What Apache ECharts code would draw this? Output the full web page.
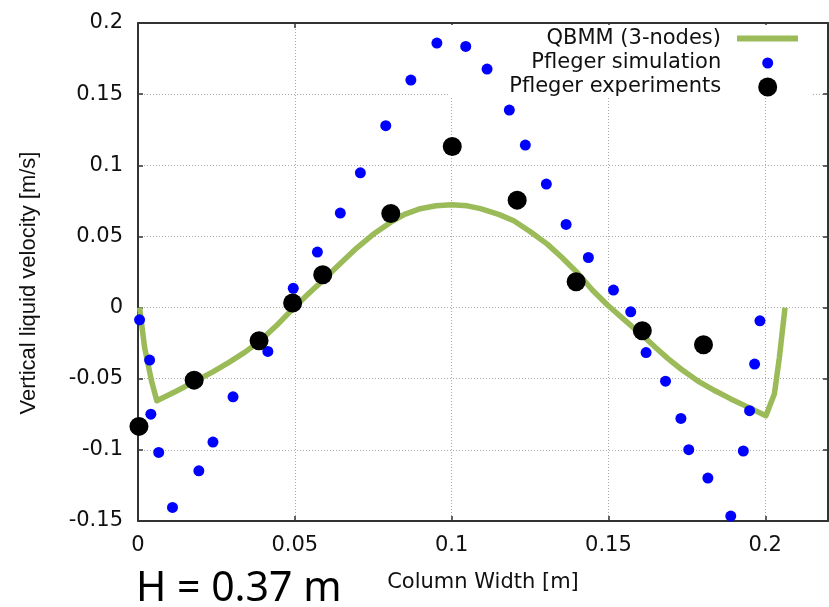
<!DOCTYPE html>
<html><head><meta charset="utf-8">
<script src="https://cdn.jsdelivr.net/npm/echarts@6/dist/echarts.min.js"></script>
<style>html,body{margin:0;padding:0;background:#fff}#c{width:829px;height:607px}</style>
</head><body><div id="c"></div>
<script>
// QBMM (3-nodes) curve
const qbmmX = [0.0005, 0.0021, 0.0043, 0.0060, 0.0120, 0.0180, 0.0240, 0.0290, 0.0340, 0.0386, 0.0440, 0.0493, 0.0540, 0.0589, 0.0645, 0.0698, 0.0750, 0.0806, 0.0850, 0.0900, 0.0950, 0.1000, 0.1050, 0.1092, 0.1150, 0.1198, 0.1250, 0.1305, 0.1350, 0.1401, 0.1450, 0.1496, 0.1550, 0.1608, 0.1650, 0.1688, 0.1730, 0.1784, 0.1840, 0.1890, 0.1950, 0.2002, 0.2029, 0.2045, 0.2063];
const qbmmY = [0.0000, -0.0280, -0.0514, -0.0655, -0.0590, -0.0520, -0.0450, -0.0385, -0.0315, -0.0240, -0.0130, -0.0010, 0.0090, 0.0190, 0.0310, 0.0420, 0.0515, 0.0600, 0.0655, 0.0695, 0.0716, 0.0722, 0.0715, 0.0695, 0.0655, 0.0610, 0.0535, 0.0446, 0.0355, 0.0245, 0.0120, 0.0020, -0.0085, -0.0195, -0.0280, -0.0355, -0.0430, -0.0515, -0.0585, -0.0642, -0.0705, -0.0760, -0.0608, -0.0350, 0.0000];
// Pfleger simulation
const simX = [0.0005, 0.0037, 0.0041, 0.0066, 0.0110, 0.0194, 0.0239, 0.0303, 0.0414, 0.0495, 0.0572, 0.0645, 0.0709, 0.0790, 0.0870, 0.0953, 0.1045, 0.1113, 0.1184, 0.1235, 0.1302, 0.1365, 0.1436, 0.1516, 0.1571, 0.1620, 0.1682, 0.1731, 0.1756, 0.1817, 0.1890, 0.1930, 0.1950, 0.1966, 0.1983];
const simY = [-0.0086, -0.0369, -0.0749, -0.1018, -0.1405, -0.1147, -0.0945, -0.0627, -0.0308, 0.0135, 0.0390, 0.0664, 0.0947, 0.1278, 0.1599, 0.1859, 0.1835, 0.1676, 0.1388, 0.1142, 0.0868, 0.0584, 0.0352, 0.0123, -0.0030, -0.0316, -0.0517, -0.0779, -0.0999, -0.1198, -0.1465, -0.1008, -0.0725, -0.0397, -0.0093];
// Pfleger experiments
const expX = [0.0003, 0.0179, 0.0386, 0.0493, 0.0589, 0.0806, 0.1002, 0.1209, 0.1397, 0.1608, 0.1803];
const expY = [-0.0835, -0.0510, -0.0233, 0.0032, 0.0231, 0.0661, 0.1132, 0.0755, 0.0181, -0.0163, -0.0261];

const seriesNames = ['QBMM (3-nodes)', 'Pfleger simulation', 'Pfleger experiments'];
const xRange = [0, 0.22], xStep = 0.05;
const yRange = [-0.15, 0.2], yStep = 0.05;
const xName = 'Column Width [m]';
const yName = 'Vertical liquid velocity [m/s]';
const noteText = 'H = 0.37 m';

const zip = (a, b) => a.map((v, i) => [v, b[i]]);
const tickFont = 'DejaVu Sans';
const border = {show: true, onZero: false, lineStyle: {color: '#333', width: 2}};
const innerTick = {show: true, inside: true, length: 5, lineStyle: {color: '#333', width: 1.5}};

const chart = echarts.init(document.getElementById('c'), null, {renderer: 'canvas'});
const legendBase = {
  orient: 'vertical', align: 'right', padding: 0, selectedMode: false
};
const legendText = (padRight) => ({fontFamily: tickFont, fontSize: 21, color: '#111', lineHeight: 22, padding: [0, padRight, 0, 0]});
chart.setOption({
  animation: false,
  backgroundColor: '#fff',
  title: {text: noteText, left: 136, top: 569, padding: 0,
    textStyle: {fontFamily: 'Noto Sans', fontSize: 41, fontWeight: 'normal', color: '#000'}},
  grid: {left: 138, top: 23, width: 690, height: 498, containLabel: false},
  legend: [
    Object.assign({}, legendBase, {data: [{name: seriesNames[0], icon: 'rect'}], top: 27.5, right: 31,
      itemWidth: 61, itemHeight: 6, itemStyle: {color: '#9bbb59'}, textStyle: legendText(11)}),
    Object.assign({}, legendBase, {data: [seriesNames[1]], top: 52, right: 55.8,
      itemWidth: 11, itemHeight: 11, textStyle: legendText(36)}),
    Object.assign({}, legendBase, {data: [seriesNames[2]], top: 76, right: 51.8,
      itemWidth: 19, itemHeight: 19, textStyle: legendText(32)})
  ],
  graphic: {elements: [{type: 'rect', left: 448, top: 25, z: 1, silent: true,
    shape: {width: 365, height: 71}, style: {fill: '#fff'}}]},
  xAxis: [{
    type: 'value', min: xRange[0], max: xRange[1], interval: xStep,
    name: xName, nameLocation: 'middle', nameGap: 51,
    nameTextStyle: {fontFamily: tickFont, fontSize: 21, color: '#111'},
    axisLine: border, axisTick: innerTick,
    axisLabel: {fontFamily: tickFont, fontSize: 21, color: '#111', margin: 14, showMaxLabel: false},
    splitLine: {show: true, lineStyle: {color: '#a8a8a8', width: 1, type: [1, 2]}}
  }, {
    type: 'value', position: 'top', min: xRange[0], max: xRange[1], interval: xStep,
    axisLine: border, axisTick: innerTick, axisLabel: {show: false}, splitLine: {show: false}
  }],
  yAxis: [{
    type: 'value', min: yRange[0], max: yRange[1], interval: yStep,
    name: yName, nameLocation: 'middle', nameGap: 98,
    nameTextStyle: {fontFamily: 'Liberation Sans', fontSize: 22, color: '#111', padding: [0, 22, 0, 0]},
    axisLine: border, axisTick: innerTick,
    axisLabel: {fontFamily: tickFont, fontSize: 21, color: '#111', margin: 15},
    splitLine: {show: true, lineStyle: {color: '#a8a8a8', width: 1, type: [1, 2]}}
  }, {
    type: 'value', position: 'right', min: yRange[0], max: yRange[1], interval: yStep,
    axisLine: border, axisTick: innerTick, axisLabel: {show: false}, splitLine: {show: false}
  }],
  series: [
    {name: seriesNames[0], type: 'line', data: zip(qbmmX, qbmmY), symbol: 'none', smooth: false,
      lineStyle: {color: '#9bbb59', width: 5.5, join: 'round'}, itemStyle: {color: '#9bbb59'}, z: 2},
    {name: seriesNames[1], type: 'scatter', data: zip(simX, simY), symbolSize: 11,
      itemStyle: {color: '#0000ff', opacity: 1}, z: 3},
    {name: seriesNames[2], type: 'scatter', data: zip(expX, expY), symbolSize: 19,
      itemStyle: {color: '#000000', opacity: 1}, z: 4}
  ]
});
</script></body></html>
